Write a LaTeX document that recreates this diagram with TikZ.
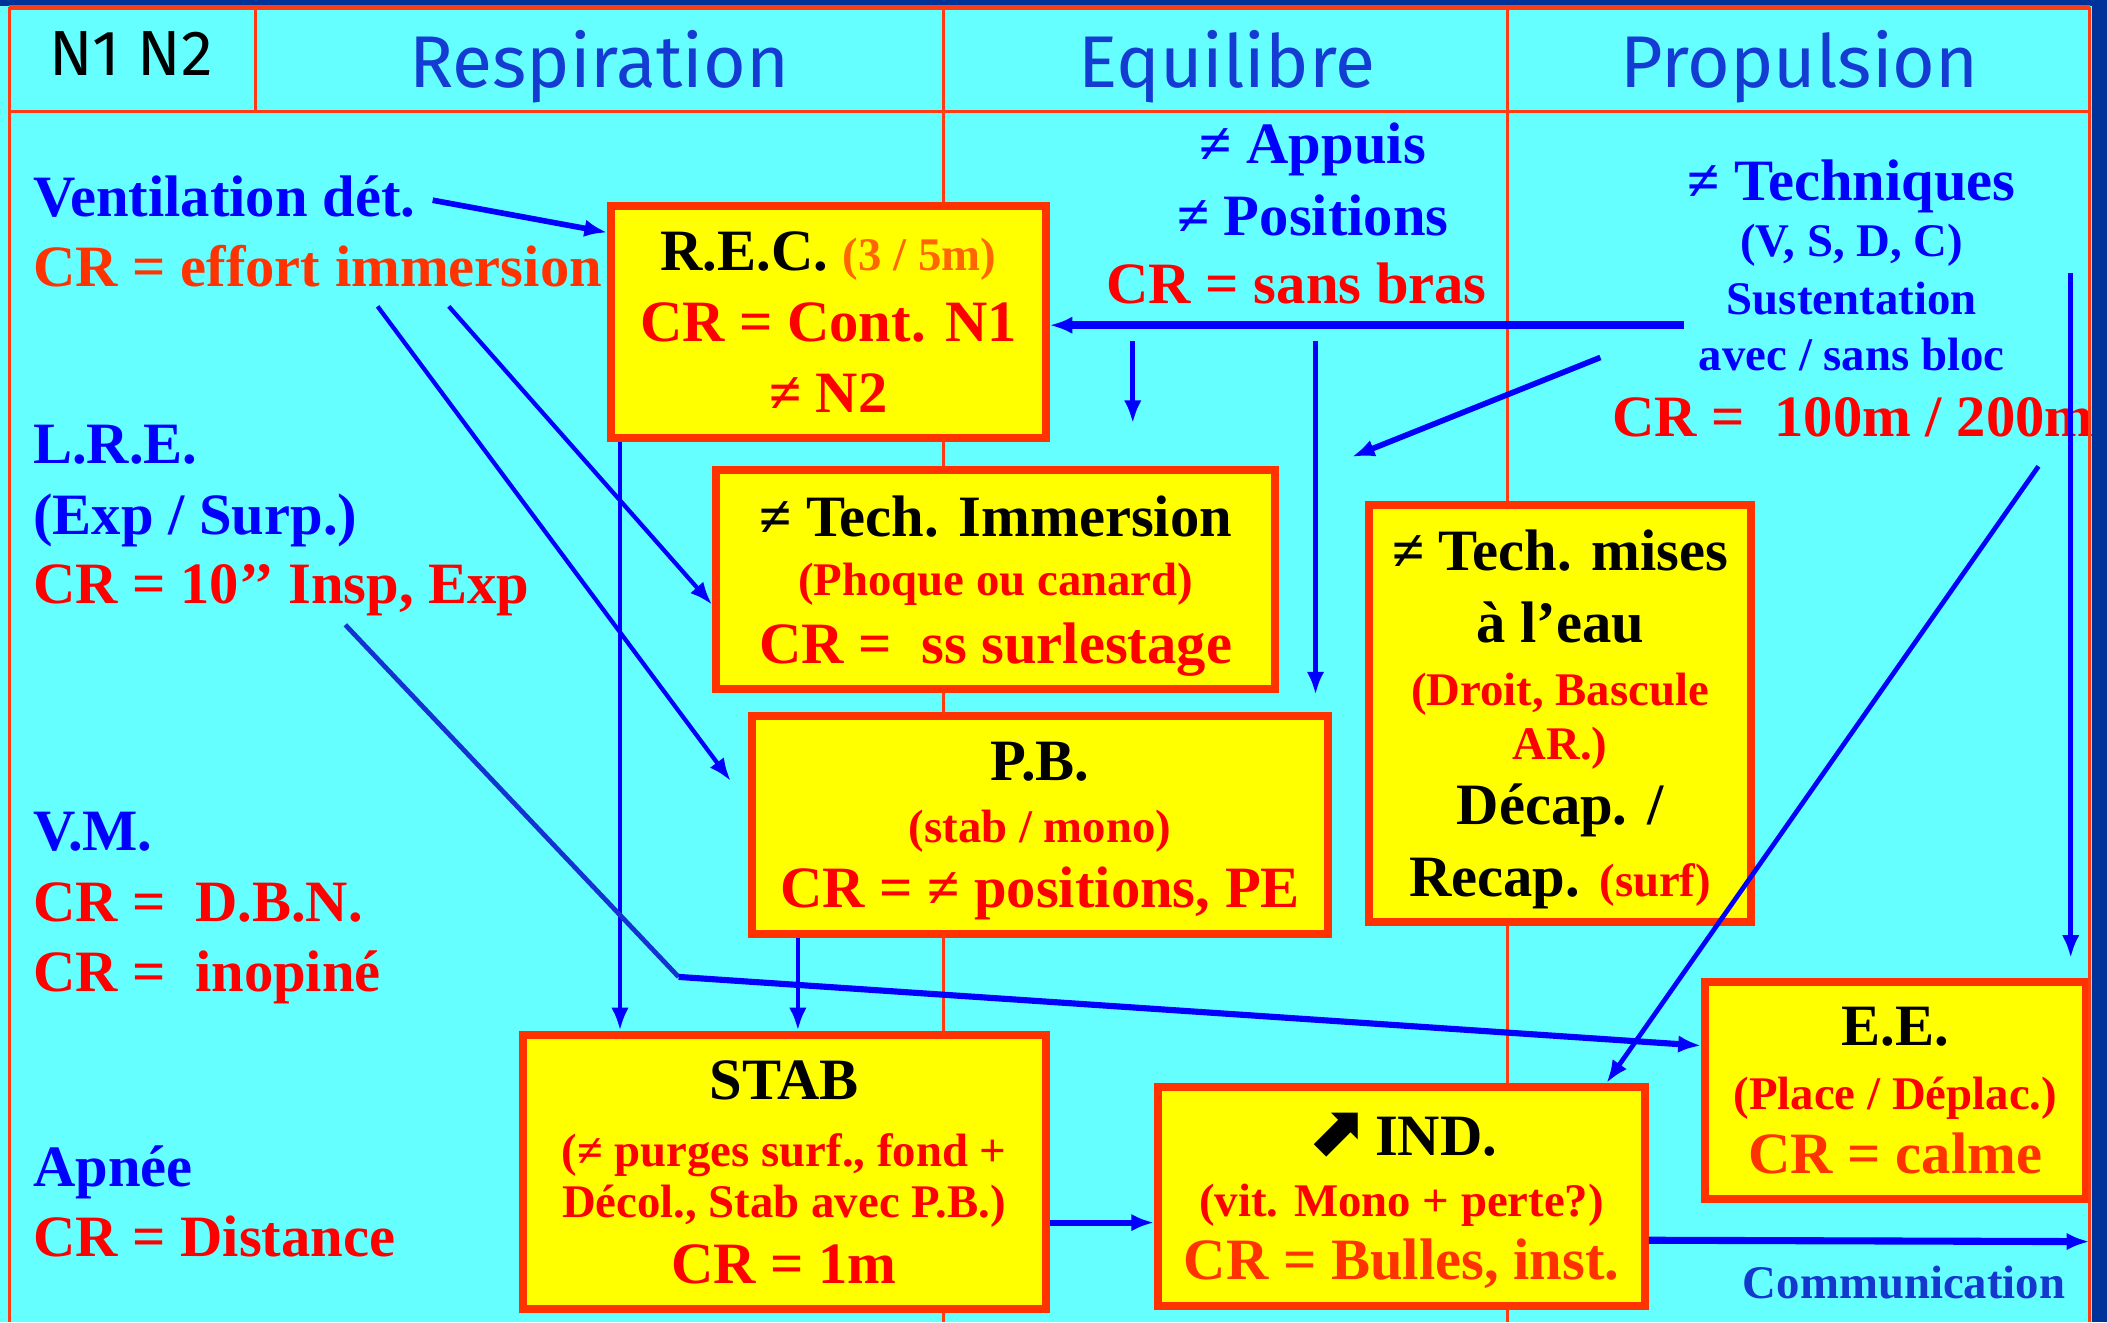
\documentclass[tikz,border=0pt]{standalone}
\usepackage{fontspec}
\setmainfont{Liberation Serif}
\newfontfamily\headfont{Fira Sans}
\newfontfamily\symbfont{DejaVu Sans}
\usepackage{tikz}
\usetikzlibrary{arrows.meta}
\usetikzlibrary{calc}

\definecolor{cyanbg}{RGB}{102,255,255}
\definecolor{boxfill}{RGB}{255,255,0}
\definecolor{boxline}{RGB}{255,51,0}
\definecolor{tablered}{RGB}{255,60,20}
\definecolor{darkband}{RGB}{0,51,153}
\definecolor{headblue}{RGB}{20,60,210}
\definecolor{txtblue}{RGB}{0,0,255}
\definecolor{commblue}{RGB}{20,55,205}
\definecolor{crred}{RGB}{255,0,0}
\definecolor{crorange}{RGB}{255,51,0}
\definecolor{recorange}{RGB}{255,102,0}
\definecolor{linkblue}{RGB}{0,0,255}
\definecolor{linkdark}{RGB}{20,50,210}

\newcommand{\lgsize}{\fontsize{12.4}{13.5}\selectfont}
\newcommand{\smsize}{\fontsize{9.9}{11.5}\selectfont}
\newcommand{\smnote}[2]{{\smsize\color{#1}#2}}

\begin{document}
\begin{tikzpicture}[x=0.01cm,y=-0.01cm,
  box/.style={draw=boxline,fill=boxfill,line width=1.7pt,align=center,inner sep=0pt,text depth=0pt,font=\bfseries\lgsize},
  lbl/.style={anchor=base west,inner sep=0pt,font=\bfseries\lgsize},
  clbl/.style={anchor=base,inner sep=0pt,font=\bfseries\lgsize},
  slbl/.style={anchor=base,inner sep=0pt,font=\bfseries\smsize},
  head/.style={anchor=base,inner sep=0pt,text=headblue,font=\headfont\fontsize{15.5}{18}\selectfont},
  link/.style={draw=linkblue,line width=1pt,-{Latex[length=1.7mm,width=1.3mm]}},
  thick link/.style={link,line width=1.5pt},
  tableline/.style={draw=tablered,line width=0.6pt}]
  \useasboundingbox (0,0) rectangle (1568,984);
  \fill[cyanbg] (0,0) rectangle (1568,984);
  \fill[darkband] (0,0) rectangle (1568,4.5);

  % table
  \draw[tableline,line width=0.9pt] (7,5.5) -- (1555,5.5);
  \draw[tableline] (7,5.5) -- (7,984);
  \draw[tableline,line width=0.8pt] (7,83) -- (1555,83);
  \draw[tableline] (190,5.5) -- (190,83);
  \draw[tableline] (702,5.5) -- (702,984);
  \draw[tableline] (1122,5.5) -- (1122,984);

  \node[head,text=black,font=\headfont\fontsize{13.5}{16}\selectfont] (niv) at (97.5,56) {N1 N2};
  \node[head] (resp) at (446,65) {Respiration};
  \node[head] (equi) at (913,65) {Equilibre};
  \node[head] (prop) at (1339,65) {Propulsion};

  % left column
  \node[lbl,text=txtblue] (vent) at (24,161) {Ventilation dét.};
  \node[lbl,text=crorange] (ventcr) at (24,213) {CR = effort immersion};
  \node[lbl,text=txtblue] (lre) at (24,345) {L.R.E.};
  \node[lbl,text=txtblue] (lreexp) at (24,398) {(Exp / Surp.)};
  \node[lbl,text=crred] (lrecr) at (24,449) {CR = 10’’ Insp, Exp};
  \node[lbl,text=txtblue] (vm) at (24,633) {V.M.};
  \node[lbl,text=crred] (vmcr) at (24,686) {CR = \ D.B.N.};
  \node[lbl,text=crred] (vmcrb) at (24,738) {CR = \ inopiné};
  \node[lbl,text=txtblue] (apnee) at (24,883) {Apnée};
  \node[lbl,text=crred] (apneecr) at (24,935) {CR = Distance};

  % equilibre
  \node[clbl,text=txtblue] (appuis) at (977,122) {≠ Appuis};
  \node[clbl,text=txtblue] (posit) at (977,175) {≠ Positions};
  \node[clbl,text=crred] (sansbras) at (965,226) {CR = sans bras};

  % propulsion
  \node[clbl,text=txtblue] (techn) at (1378,149) {≠ Techniques};
  \node[slbl,text=txtblue] (vsdc) at (1378,191) {(V, S, D, C)};
  \node[slbl,text=txtblue] (sust) at (1378,234) {Sustentation};
  \node[slbl,text=txtblue] (bloc) at (1378,276) {avec / sans bloc};
  \node[clbl,text=crred] (distcr) at (1379,325) {CR = \ 100m / 200m};
  \node[slbl,text=commblue] (comm) at (1417,966) {Communication};

  % boxes
  \node[box,minimum width=3.23cm,minimum height=1.73cm] (rec) at (616.5,239.5)
    {R.E.C. \smnote{recorange}{(3 / 5m)}\\[1.5pt] \textcolor{crred}{CR = Cont. N1}\\[1.5pt] \textcolor{crred}{≠ N2}};
  \node[box,minimum width=4.16cm,minimum height=1.63cm] (imm) at (741,431.5)
    {≠ Tech. Immersion\\[-1pt] \smnote{crred}{(Phoque ou canard)}\\[0.8pt] \textcolor{crred}{CR = \ ss surlestage}};
  \node[box,minimum width=4.28cm,minimum height=1.62cm] (pb) at (774,614)
    {P.B.\\[-0.5pt] \smnote{crred}{(stab / mono)}\\[0.3pt] \textcolor{crred}{CR = ≠ positions, PE}};
  \node[box,minimum width=2.84cm,minimum height=3.10cm] (mises) at (1161,531)
    {≠ Tech. mises\\[1.6pt] à l’eau\\[-0.2pt] \smnote{crred}{(Droit, Bascule}\\[-1.9pt] \smnote{crred}{AR.)}\\[0.2pt] Décap. /\\[1.8pt] Recap. \smnote{crred}{(surf)}};
  \node[box,minimum width=3.89cm,minimum height=2.04cm] (stab) at (583.5,872)
    {STAB\\[0.7pt] \smnote{crred}{(≠ purges surf., fond +}\\[-2.7pt] \smnote{crred}{Décol., Stab avec P.B.)}\\[0.4pt] \textcolor{crred}{CR = 1m}};
  \node[box,minimum width=3.62cm,minimum height=1.63cm] (ind) at (1043,890.5)
    {{\symbfont\fontsize{15}{15}\selectfont ⬈}\,IND.\\[-0.7pt] \smnote{crred}{(vit. Mono + perte?)}\\ \textcolor{crorange}{CR = Bulles, inst.}};
  \node[box,minimum width=2.83cm,minimum height=1.61cm] (ee) at (1410.5,811.5)
    {E.E.\\ \smnote{crred}{(Place / Déplac.)}\\ \textcolor{crorange}{CR = calme}};

  % free ends
  \coordinate (a0) at (322,149);
  \coordinate (b0) at (334,228);
  \coordinate (c0) at (281,228);
  \coordinate (f0) at (1253,242);
  \coordinate (g0) at (843,254);
  \coordinate (g1) at (843,315);
  \coordinate (h0) at (979,254);
  \coordinate (i0) at (1191,266);
  \coordinate (i1) at (1006,340);
  \coordinate (j0) at (1541,203);
  \coordinate (k0) at (1517,347);
  \coordinate (l0) at (257,465);
  \coordinate (l1) at (505,727);
  \coordinate (n1) at (1555,924);

  \draw[link,line width=1.2pt] (a0) -- (rec.158.8);
  \draw[link,line width=0.9pt] (b0) -- (imm.185);
  \draw[link,line width=0.9pt,shorten >=2.2mm] (c0) -- (pb.176.3);
  \draw[link] (rec.210.7) -- (rec.210.7 |- stab.north);
  \draw[link] (pb.205.4) -- (pb.205.4 |- stab.north);
  \draw[thick link,line width=1.6pt] (f0) -- (f0 -| rec.east);
  \draw[link] (g0) -- (g1);
  \draw[link] (h0) -- ($(h0 |- pb.north)+(0,-13)$);
  \draw[link,line width=1.2pt] (i0) -- (i1);
  \draw[link] (j0) -- ($(j0 |- ee.north)+(0,-15)$);
  \draw[link] (k0) -- (ind.29.9);
  \draw[line width=1pt,draw=linkdark] (l0) -- (l1);
  \draw[thick link,line width=1.3pt] (l1) -- (ee.167.4);
  \draw[thick link,line width=1.3pt] (ind.186.1 -| stab.east) -- (ind.186.1);
  \draw[thick link] (ind.-10.3) -- (n1);

  % right edge
  \draw[tableline] (1555,5.5) -- (1555,984);
  \fill[darkband] (1556.5,0) rectangle (1568,984);
\end{tikzpicture}
\end{document}
